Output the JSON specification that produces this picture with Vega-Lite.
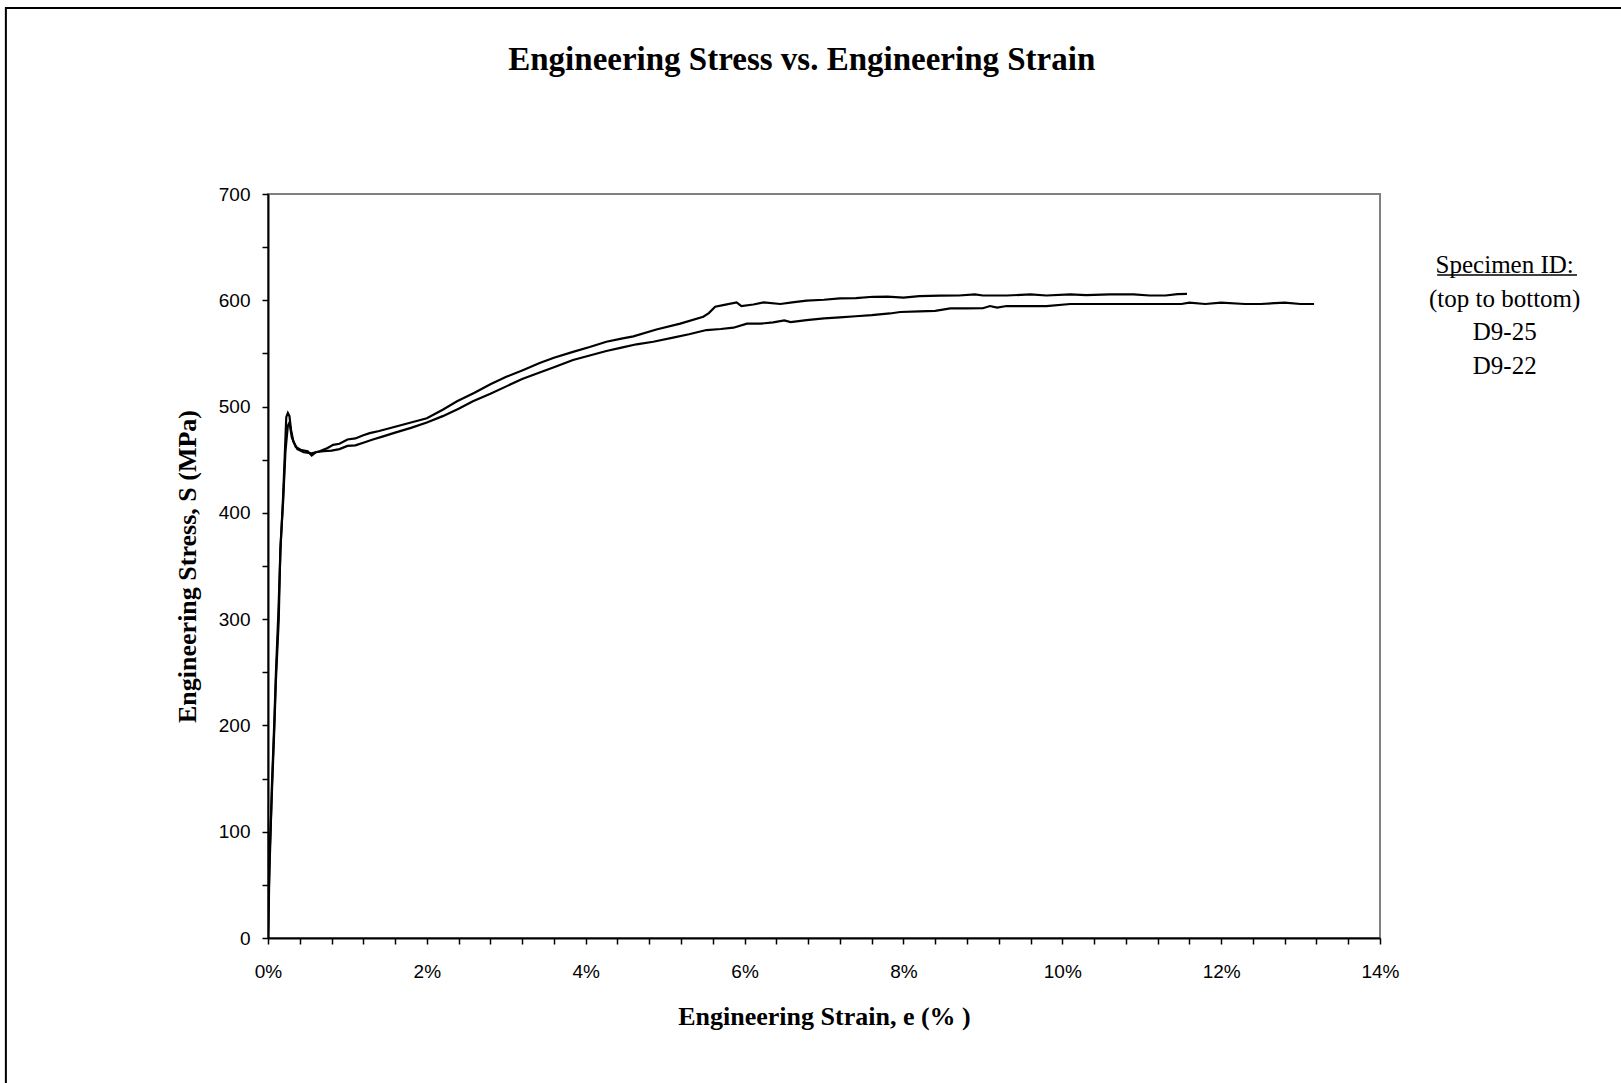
{
  "$schema": "https://vega.github.io/schema/vega-lite/v6.json",
  "width": 1112,
  "height": 744,
  "autosize": {"type": "none"},
  "padding": {"left": 268, "top": 194, "right": 241, "bottom": 145},
  "background": "white",
  "config": {
    "view": {"stroke": "#808080", "strokeWidth": 2}
  },
  "resolve": {"axis": {"x": "independent"}},
  "datasets": {
    "curves": [
      {"specimen": "D9-25", "strain": 0, "stress": 0},
      {"specimen": "D9-25", "strain": 0.01, "stress": 45},
      {"specimen": "D9-25", "strain": 0.03, "stress": 92},
      {"specimen": "D9-25", "strain": 0.05, "stress": 145},
      {"specimen": "D9-25", "strain": 0.08, "stress": 205},
      {"specimen": "D9-25", "strain": 0.1, "stress": 250},
      {"specimen": "D9-25", "strain": 0.13, "stress": 305},
      {"specimen": "D9-25", "strain": 0.16, "stress": 370},
      {"specimen": "D9-25", "strain": 0.19, "stress": 415},
      {"specimen": "D9-25", "strain": 0.21, "stress": 452},
      {"specimen": "D9-25", "strain": 0.23, "stress": 490},
      {"specimen": "D9-25", "strain": 0.25, "stress": 494},
      {"specimen": "D9-25", "strain": 0.27, "stress": 491},
      {"specimen": "D9-25", "strain": 0.29, "stress": 478},
      {"specimen": "D9-25", "strain": 0.32, "stress": 467},
      {"specimen": "D9-25", "strain": 0.37, "stress": 460},
      {"specimen": "D9-25", "strain": 0.45, "stress": 457},
      {"specimen": "D9-25", "strain": 0.55, "stress": 456},
      {"specimen": "D9-25", "strain": 0.65, "stress": 458},
      {"specimen": "D9-25", "strain": 0.75, "stress": 461},
      {"specimen": "D9-25", "strain": 0.82, "stress": 464},
      {"specimen": "D9-25", "strain": 0.9, "stress": 465},
      {"specimen": "D9-25", "strain": 1.0, "stress": 469},
      {"specimen": "D9-25", "strain": 1.1, "stress": 470},
      {"specimen": "D9-25", "strain": 1.2, "stress": 473},
      {"specimen": "D9-25", "strain": 1.28, "stress": 475},
      {"specimen": "D9-25", "strain": 1.4, "stress": 477},
      {"specimen": "D9-25", "strain": 1.6, "stress": 481},
      {"specimen": "D9-25", "strain": 1.8, "stress": 485},
      {"specimen": "D9-25", "strain": 2.0, "stress": 489},
      {"specimen": "D9-25", "strain": 2.2, "stress": 497},
      {"specimen": "D9-25", "strain": 2.38, "stress": 505},
      {"specimen": "D9-25", "strain": 2.6, "stress": 513},
      {"specimen": "D9-25", "strain": 2.8, "stress": 521},
      {"specimen": "D9-25", "strain": 3.0, "stress": 528},
      {"specimen": "D9-25", "strain": 3.2, "stress": 534},
      {"specimen": "D9-25", "strain": 3.42, "stress": 541},
      {"specimen": "D9-25", "strain": 3.6, "stress": 546},
      {"specimen": "D9-25", "strain": 3.84, "stress": 551.5},
      {"specimen": "D9-25", "strain": 4.05, "stress": 556},
      {"specimen": "D9-25", "strain": 4.26, "stress": 561},
      {"specimen": "D9-25", "strain": 4.45, "stress": 564},
      {"specimen": "D9-25", "strain": 4.6, "stress": 566},
      {"specimen": "D9-25", "strain": 4.89, "stress": 572.5},
      {"specimen": "D9-25", "strain": 5.19, "stress": 578},
      {"specimen": "D9-25", "strain": 5.48, "stress": 584.5},
      {"specimen": "D9-25", "strain": 5.55, "stress": 588},
      {"specimen": "D9-25", "strain": 5.63, "stress": 594},
      {"specimen": "D9-25", "strain": 5.73, "stress": 595.5},
      {"specimen": "D9-25", "strain": 5.9, "stress": 598},
      {"specimen": "D9-25", "strain": 5.96, "stress": 594.6},
      {"specimen": "D9-25", "strain": 6.11, "stress": 596},
      {"specimen": "D9-25", "strain": 6.24, "stress": 598},
      {"specimen": "D9-25", "strain": 6.45, "stress": 596.5},
      {"specimen": "D9-25", "strain": 6.6, "stress": 598},
      {"specimen": "D9-25", "strain": 6.78, "stress": 599.6},
      {"specimen": "D9-25", "strain": 7.0, "stress": 600.5},
      {"specimen": "D9-25", "strain": 7.2, "stress": 601.8},
      {"specimen": "D9-25", "strain": 7.4, "stress": 602},
      {"specimen": "D9-25", "strain": 7.62, "stress": 603.3},
      {"specimen": "D9-25", "strain": 7.8, "stress": 603.5},
      {"specimen": "D9-25", "strain": 8.0, "stress": 602.5},
      {"specimen": "D9-25", "strain": 8.2, "stress": 604},
      {"specimen": "D9-25", "strain": 8.46, "stress": 604.3},
      {"specimen": "D9-25", "strain": 8.7, "stress": 604.5},
      {"specimen": "D9-25", "strain": 8.9, "stress": 605.5},
      {"specimen": "D9-25", "strain": 9.0, "stress": 604.5},
      {"specimen": "D9-25", "strain": 9.3, "stress": 604.5},
      {"specimen": "D9-25", "strain": 9.6, "stress": 605.5},
      {"specimen": "D9-25", "strain": 9.8, "stress": 604.5},
      {"specimen": "D9-25", "strain": 10.1, "stress": 605.5},
      {"specimen": "D9-25", "strain": 10.3, "stress": 604.8},
      {"specimen": "D9-25", "strain": 10.6, "stress": 605.5},
      {"specimen": "D9-25", "strain": 10.9, "stress": 605.5},
      {"specimen": "D9-25", "strain": 11.1, "stress": 604.5},
      {"specimen": "D9-25", "strain": 11.3, "stress": 604.5},
      {"specimen": "D9-25", "strain": 11.45, "stress": 605.8},
      {"specimen": "D9-25", "strain": 11.57, "stress": 606},
      {"specimen": "D9-22", "strain": 0, "stress": 0},
      {"specimen": "D9-22", "strain": 0.012, "stress": 40},
      {"specimen": "D9-22", "strain": 0.02, "stress": 78},
      {"specimen": "D9-22", "strain": 0.05, "stress": 139},
      {"specimen": "D9-22", "strain": 0.08, "stress": 198},
      {"specimen": "D9-22", "strain": 0.1, "stress": 243},
      {"specimen": "D9-22", "strain": 0.135, "stress": 299},
      {"specimen": "D9-22", "strain": 0.155, "stress": 366},
      {"specimen": "D9-22", "strain": 0.19, "stress": 410},
      {"specimen": "D9-22", "strain": 0.22, "stress": 458},
      {"specimen": "D9-22", "strain": 0.25, "stress": 482},
      {"specimen": "D9-22", "strain": 0.27, "stress": 485},
      {"specimen": "D9-22", "strain": 0.3, "stress": 471},
      {"specimen": "D9-22", "strain": 0.35, "stress": 462},
      {"specimen": "D9-22", "strain": 0.42, "stress": 459},
      {"specimen": "D9-22", "strain": 0.5, "stress": 458},
      {"specimen": "D9-22", "strain": 0.55, "stress": 454},
      {"specimen": "D9-22", "strain": 0.6, "stress": 457},
      {"specimen": "D9-22", "strain": 0.7, "stress": 458},
      {"specimen": "D9-22", "strain": 0.8, "stress": 458.5},
      {"specimen": "D9-22", "strain": 0.9, "stress": 460},
      {"specimen": "D9-22", "strain": 1.0, "stress": 463},
      {"specimen": "D9-22", "strain": 1.1, "stress": 463.5},
      {"specimen": "D9-22", "strain": 1.2, "stress": 466},
      {"specimen": "D9-22", "strain": 1.32, "stress": 469},
      {"specimen": "D9-22", "strain": 1.45, "stress": 472},
      {"specimen": "D9-22", "strain": 1.6, "stress": 475.5},
      {"specimen": "D9-22", "strain": 1.8, "stress": 480},
      {"specimen": "D9-22", "strain": 2.0, "stress": 485},
      {"specimen": "D9-22", "strain": 2.2, "stress": 491},
      {"specimen": "D9-22", "strain": 2.4, "stress": 498},
      {"specimen": "D9-22", "strain": 2.58, "stress": 505},
      {"specimen": "D9-22", "strain": 2.8, "stress": 512},
      {"specimen": "D9-22", "strain": 3.0, "stress": 519},
      {"specimen": "D9-22", "strain": 3.2, "stress": 526},
      {"specimen": "D9-22", "strain": 3.42, "stress": 532},
      {"specimen": "D9-22", "strain": 3.6, "stress": 537},
      {"specimen": "D9-22", "strain": 3.84, "stress": 543.8},
      {"specimen": "D9-22", "strain": 4.05, "stress": 548},
      {"specimen": "D9-22", "strain": 4.26, "stress": 552.3},
      {"specimen": "D9-22", "strain": 4.45, "stress": 555.5},
      {"specimen": "D9-22", "strain": 4.64, "stress": 558.6},
      {"specimen": "D9-22", "strain": 4.85, "stress": 561},
      {"specimen": "D9-22", "strain": 5.1, "stress": 564.8},
      {"specimen": "D9-22", "strain": 5.3, "stress": 568},
      {"specimen": "D9-22", "strain": 5.52, "stress": 572},
      {"specimen": "D9-22", "strain": 5.7, "stress": 573},
      {"specimen": "D9-22", "strain": 5.86, "stress": 574.2},
      {"specimen": "D9-22", "strain": 6.03, "stress": 578},
      {"specimen": "D9-22", "strain": 6.2, "stress": 578},
      {"specimen": "D9-22", "strain": 6.36, "stress": 579.2},
      {"specimen": "D9-22", "strain": 6.5, "stress": 581},
      {"specimen": "D9-22", "strain": 6.58, "stress": 579.5},
      {"specimen": "D9-22", "strain": 6.78, "stress": 581.4},
      {"specimen": "D9-22", "strain": 7.0, "stress": 583},
      {"specimen": "D9-22", "strain": 7.2, "stress": 584},
      {"specimen": "D9-22", "strain": 7.4, "stress": 585},
      {"specimen": "D9-22", "strain": 7.6, "stress": 586},
      {"specimen": "D9-22", "strain": 7.83, "stress": 587.6},
      {"specimen": "D9-22", "strain": 7.96, "stress": 589},
      {"specimen": "D9-22", "strain": 8.2, "stress": 589.5},
      {"specimen": "D9-22", "strain": 8.4, "stress": 590},
      {"specimen": "D9-22", "strain": 8.59, "stress": 592.3},
      {"specimen": "D9-22", "strain": 8.8, "stress": 592.3},
      {"specimen": "D9-22", "strain": 9.0, "stress": 592.5},
      {"specimen": "D9-22", "strain": 9.09, "stress": 594.6},
      {"specimen": "D9-22", "strain": 9.18, "stress": 593.2},
      {"specimen": "D9-22", "strain": 9.3, "stress": 594.6},
      {"specimen": "D9-22", "strain": 9.6, "stress": 594.6},
      {"specimen": "D9-22", "strain": 9.8, "stress": 594.6},
      {"specimen": "D9-22", "strain": 10.1, "stress": 596.5},
      {"specimen": "D9-22", "strain": 11.0, "stress": 596.5},
      {"specimen": "D9-22", "strain": 11.5, "stress": 596.5},
      {"specimen": "D9-22", "strain": 11.6, "stress": 597.8},
      {"specimen": "D9-22", "strain": 11.8, "stress": 596.5},
      {"specimen": "D9-22", "strain": 12.0, "stress": 597.8},
      {"specimen": "D9-22", "strain": 12.3, "stress": 596.5},
      {"specimen": "D9-22", "strain": 12.5, "stress": 596.5},
      {"specimen": "D9-22", "strain": 12.8, "stress": 597.8},
      {"specimen": "D9-22", "strain": 13.0, "stress": 596.5},
      {"specimen": "D9-22", "strain": 13.17, "stress": 596.5}
    ],
    "heading": [
      {"text": "Engineering Stress vs. Engineering Strain"}
    ],
    "notes": [
      {"label": ["Specimen ID:", "(top to bottom)", "D9-25", "D9-22"]}
    ]
  },
  "layer": [
    {
      "data": {"name": "curves"},
      "mark": {"type": "line", "color": "black", "strokeWidth": 2.2, "clip": true},
      "encoding": {
        "x": {
          "field": "strain",
          "type": "quantitative",
          "scale": {"domain": [0, 14], "nice": false, "zero": false},
          "axis": {
            "orient": "bottom",
            "title": "Engineering Strain, e (% )",
            "values": [0, 2, 4, 6, 8, 10, 12, 14],
            "labelExpr": "datum.value + '%'",
            "labelOverlap": false,
            "labelFlush": false,
            "grid": false,
            "domainColor": "black",
            "domainWidth": 2,
            "tickColor": "black",
            "tickWidth": 1.5,
            "tickSize": 6,
            "labelFont": "Liberation Sans",
            "labelFontSize": 19,
            "labelColor": "black",
            "labelPadding": 18,
            "titleFont": "Liberation Serif",
            "titleFontSize": 26,
            "titleFontWeight": "bold",
            "titleColor": "black",
            "titlePadding": 22
          }
        },
        "y": {
          "field": "stress",
          "type": "quantitative",
          "scale": {"domain": [0, 700], "nice": false, "zero": false},
          "axis": {
            "title": "Engineering Stress, S (MPa)",
            "values": [0, 25, 50, 75, 100, 125, 150, 175, 200, 225, 250, 275, 300, 325, 350, 375, 400, 425, 450, 475, 500, 525, 550, 575, 600, 625, 650, 675, 700],
            "labelExpr": "datum.value % 100 === 0 ? datum.value : ''",
            "labelOverlap": false,
            "labelFlush": false,
            "grid": false,
            "domainColor": "black",
            "domainWidth": 2,
            "tickColor": "black",
            "tickWidth": 1.5,
            "tickSize": 6,
            "labelFont": "Liberation Sans",
            "labelFontSize": 19,
            "labelColor": "black",
            "labelPadding": 12,
            "titleFont": "Liberation Serif",
            "titleFontSize": 26,
            "titleFontWeight": "bold",
            "titleColor": "black",
            "titlePadding": 18
          }
        },
        "detail": {"field": "specimen", "type": "nominal"}
      }
    },
    {
      "data": {"name": "heading"},
      "mark": {
        "type": "text",
        "font": "Liberation Serif",
        "fontSize": 33,
        "fontWeight": "bold",
        "align": "center",
        "baseline": "middle",
        "color": "black"
      },
      "encoding": {
        "x": {"datum": 6.72, "axis": null},
        "y": {"datum": 826},
        "text": {"field": "text"}
      }
    },
    {
      "data": {"name": "notes"},
      "mark": {
        "type": "text",
        "font": "Liberation Serif",
        "fontSize": 25,
        "align": "center",
        "baseline": "alphabetic",
        "lineHeight": 33.5,
        "color": "black"
      },
      "encoding": {
        "x": {"datum": 15.57, "axis": null},
        "y": {"datum": 625.6},
        "text": {"field": "label"}
      }
    },
    {
      "data": {"name": "notes"},
      "mark": {"type": "rule", "color": "black", "strokeWidth": 1.5},
      "encoding": {
        "x": {"datum": 14.72, "axis": null},
        "x2": {"datum": 16.48},
        "y": {"datum": 623.8}
      }
    },
    {
      "data": {"name": "notes"},
      "mark": {"type": "rect", "fill": "transparent", "stroke": "black", "strokeWidth": 2},
      "encoding": {
        "x": {
          "datum": -3.3,
          "axis": {
            "orient": "bottom",
            "title": null,
            "values": [0.4, 0.8, 1.2, 1.6, 2.4, 2.8, 3.2, 3.6, 4.4, 4.8, 5.2, 5.6, 6.4, 6.8, 7.2, 7.6, 8.4, 8.8, 9.2, 9.6, 10.4, 10.8, 11.2, 11.6, 12.4, 12.8, 13.2, 13.6],
            "labels": false,
            "domain": false,
            "grid": false,
            "ticks": true,
            "tickColor": "black",
            "tickWidth": 1.5,
            "tickSize": 6
          }
        },
        "x2": {"datum": 17.15},
        "y": {"datum": 875},
        "y2": {"datum": -142}
      }
    }
  ]
}
